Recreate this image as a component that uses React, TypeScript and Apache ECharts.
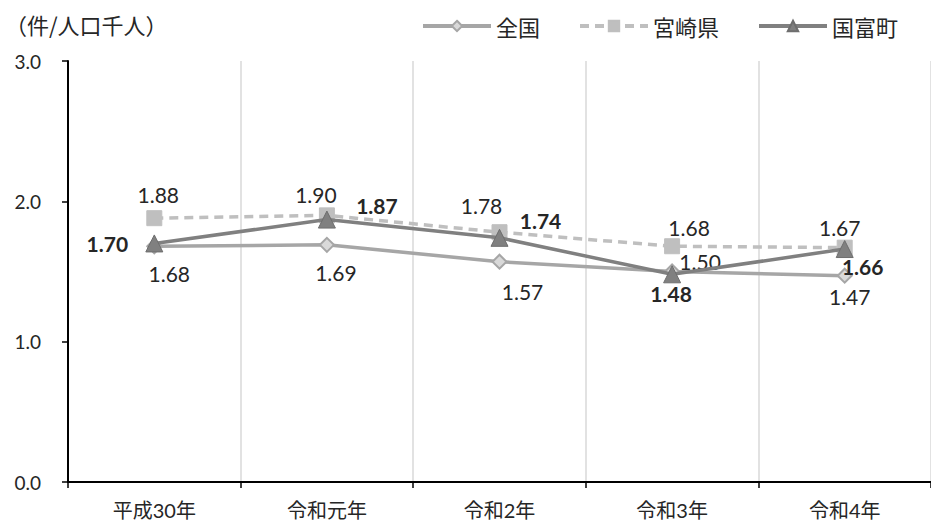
import React, { useEffect, useRef } from "react";
import * as echarts from "echarts";

const categories = ["平成30年", "令和元年", "令和2年", "令和3年", "令和4年"];
const zenkoku = [1.68, 1.69, 1.57, 1.5, 1.47];
const miyazaki = [1.88, 1.9, 1.78, 1.68, 1.67];
const kunitomi = [1.7, 1.87, 1.74, 1.48, 1.66];
const yTicks = [0, 1, 2, 3];
const unitLabel = "（件/人口千人）";

const zenkokuOffsets = [[15, 27], [9, 28], [23, 30], [28, -10], [5, 21]];
const miyazakiOffsets = [[4, -24], [-11, -21], [-18, -27], [17, -19], [-5, -20]];
const kunitomiOffsets = [[-47, 0], [50, -14], [41, -17], [-1, 19], [18, 17]];

const FONT = "Lato, 'Noto Sans CJK JP', sans-serif";
const CJK = "'Noto Sans CJK JP', sans-serif";
const TXT = "#262626";

function withLabels(values: number[], offsets: number[][], bold: boolean) {
  return values.map((v, i) => ({
    value: v,
    label: {
      show: true,
      position: "inside",
      offset: offsets[i],
      formatter: (p: any) => Number(p.value).toFixed(2),
      fontSize: 21,
      fontFamily: FONT,
      fontWeight: bold ? "bold" : "normal",
      color: TXT,
    },
  }));
}

export default function App() {
  const ref = useRef<HTMLDivElement>(null);
  useEffect(() => {
    if (!ref.current) return;
    const chart = echarts.init(ref.current, undefined, { renderer: "svg" });
    chart.setOption({
      animation: false,
      textStyle: { fontFamily: FONT },
      title: {
        text: unitLabel,
        left: 0,
        top: 8,
        textStyle: { fontSize: 22, fontWeight: "normal", color: TXT, fontFamily: CJK },
      },
      legend: {
        right: 28,
        top: 10,
        itemWidth: 68,
        itemHeight: 13,
        itemGap: 38,
        lineStyle: { width: 4 },
        textStyle: { fontSize: 22, color: TXT, fontFamily: CJK },
        data: ["全国", "宮崎県", "国富町"],
      },
      grid: { left: 68, right: -7, top: 61, bottom: 42 },
      xAxis: {
        type: "category",
        data: categories,
        boundaryGap: true,
        axisLine: { show: true, lineStyle: { color: "#000", width: 2 } },
        axisTick: { show: true, length: 6, interval: 0, lineStyle: { color: "#000", width: 1.5 } },
        axisLabel: { fontSize: 20, color: TXT, margin: 18, interval: 0 },
        splitLine: { show: true, interval: 0, lineStyle: { color: "#d9d9d9", width: 1.5 } },
      },
      yAxis: {
        type: "value",
        min: yTicks[0],
        max: yTicks[yTicks.length - 1],
        interval: 1,
        axisLine: { show: true, lineStyle: { color: "#000", width: 2 } },
        axisTick: { show: true, length: 6, lineStyle: { color: "#000", width: 1.5 } },
        axisLabel: { fontSize: 19, color: TXT, margin: 27, formatter: (v: number) => v.toFixed(1) },
        splitLine: { show: false },
      },
      series: [
        {
          name: "全国",
          type: "line",
          data: withLabels(zenkoku, zenkokuOffsets, false),
          symbol: "diamond",
          symbolSize: 14,
          lineStyle: { color: "#a6a6a6", width: 3.5 },
          itemStyle: { color: "#d9d9d9", borderColor: "#a6a6a6", borderWidth: 2 },
          z: 2,
        },
        {
          name: "宮崎県",
          type: "line",
          data: withLabels(miyazaki, miyazakiOffsets, false),
          symbol: "rect",
          symbolSize: 15,
          lineStyle: { color: "#bfbfbf", width: 3.5, type: [9, 6] },
          itemStyle: { color: "#bfbfbf", borderColor: "#bfbfbf", borderWidth: 1 },
          z: 3,
        },
        {
          name: "国富町",
          type: "line",
          data: withLabels(kunitomi, kunitomiOffsets, true),
          symbol: "triangle",
          symbolSize: 17,
          lineStyle: { color: "#808080", width: 3.5 },
          itemStyle: { color: "#808080", borderColor: "#6e6e6e", borderWidth: 1 },
          z: 4,
        },
      ],
    });
    return () => chart.dispose();
  }, []);
  return (
    <div
      ref={ref}
      style={{ position: "absolute", left: 0, top: 0, width: 931, height: 524, background: "#fff" }}
    />
  );
}
